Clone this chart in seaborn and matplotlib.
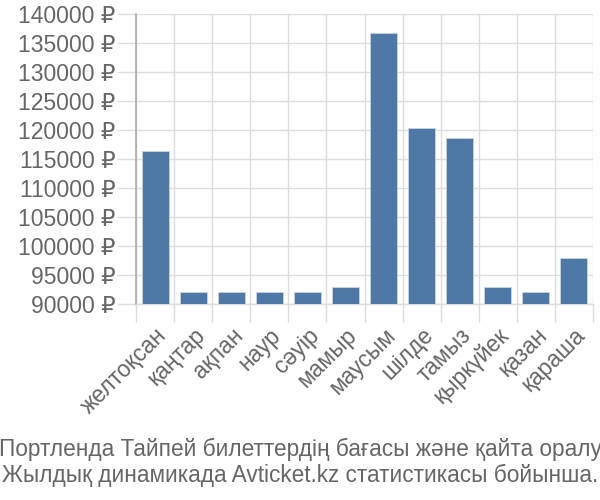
import matplotlib
matplotlib.use("Agg")
import matplotlib.pyplot as plt
import seaborn as sns
import pandas as pd
import numpy as np
from matplotlib.ticker import FixedLocator, FuncFormatter

months = ["желтоқсан", "қаңтар", "ақпан", "наур", "сәуір", "мамыр",
          "маусым", "шілде", "тамыз", "қыркүйек", "қазан", "қараша"]
prices = [116400, 92100, 92100, 92100, 92100, 93000,
          136800, 120300, 118600, 93000, 92100, 97900]
yticks = [90000, 95000, 100000, 105000, 110000, 115000, 120000,
          125000, 130000, 135000, 140000]
caption = ("Портленда Тайпей билеттердің бағасы және қайта оралу\n"
           "Жылдық динамикада Avticket.kz статистикасы бойынша.")

sns.set_theme(style="white")
plt.rcParams['font.family'] = ['Liberation Sans', 'DejaVu Sans']

df = pd.DataFrame({"month": months, "price": prices})

fig = plt.figure(figsize=(6, 5), dpi=100)
ax = fig.add_axes([0.227, 0.392, 0.761, 0.58])

sns.barplot(data=df, x="month", y="price", color="#4e78a6", saturation=1,
            width=0.72, edgecolor="#c8d4e4", linewidth=0.6, ax=ax, zorder=3)

ax.set_ylim(yticks[0], yticks[-1])
ax.set_xlim(-0.5, len(months) - 0.5)
ax.set_yticks(yticks)
ax.yaxis.set_major_formatter(FuncFormatter(lambda v, p: f"{int(v)} ₽"))
ax.set_xlabel("")
ax.set_ylabel("")

# grid
ax.yaxis.grid(True, color="#dddddd", linewidth=1, zorder=0)
ax.xaxis.set_minor_locator(FixedLocator(np.arange(-0.5, len(months), 1.0)))
ax.xaxis.grid(True, which="minor", color="#dddddd", linewidth=1, zorder=0)
ax.xaxis.grid(False, which="major")
ax.set_axisbelow(True)

for s in ["top", "right"]:
    ax.spines[s].set_visible(False)
ax.spines["left"].set_color("#aaaaaa")
ax.spines["left"].set_linewidth(1.2)
ax.spines["bottom"].set_color("#dddddd")
ax.spines["bottom"].set_linewidth(1)

ax.tick_params(axis="y", which="major", length=14, width=1, color="#dddddd",
               labelsize=16.5, labelcolor="#666666", pad=1, left=True)
ax.tick_params(axis="x", which="minor", length=13, width=1, color="#dddddd",
               bottom=True)
ax.tick_params(axis="x", which="major", length=0, pad=14, labelsize=16.5,
               labelcolor="#666666")
for lbl in ax.get_xticklabels():
    lbl.set_rotation(45)
    lbl.set_ha("right")
    lbl.set_rotation_mode("anchor")

fig.text(0.5, 1 - 482 / 500, caption, ha="center", va="baseline",
         fontsize=16.3, color="#666666", linespacing=1.17)

fig.savefig("out.png", dpi=100)
